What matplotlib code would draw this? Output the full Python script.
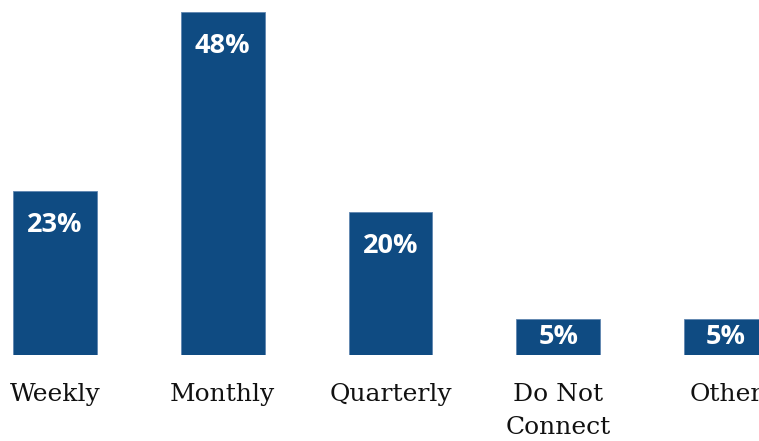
import matplotlib.pyplot as plt
import numpy as np

categories = ["Weekly", "Monthly", "Quarterly", "Do Not\nConnect", "Other"]
values = [23, 48, 20, 5, 5]
labels = ["23%", "48%", "20%", "5%", "5%"]

W, H = 759, 441
bar_color = "#0f4b82"
px_per_unit = 7.15
base_px = 355  # bar baseline, px from top

fig = plt.figure(figsize=(W / 100, H / 100), dpi=100)
ax = fig.add_axes([0, 1 - base_px / H, 1, base_px / H])

x = np.arange(len(categories))
spacing = 167.75
x0 = -55 / spacing
ax.set_xlim(x0, x0 + W / spacing)
ax.set_ylim(0, base_px / px_per_unit)

ax.bar(x, values, width=0.5, color=bar_color, edgecolor="#5f86b0", linewidth=0.6)

for xi, v, lab in zip(x, values, labels):
    bar_px = v * px_per_unit
    off = min(34, bar_px / 2)
    ax.text(xi, v - off / px_per_unit, lab, ha="center", va="center",
            color="white", fontsize=19.5, fontweight="bold", family=["Open Sans", "DejaVu Sans"])

ax.axis("off")

# category labels (the last one runs off the right edge, as in the original)
for xi, cat in zip(x, categories):
    xf = (xi - x0) * spacing / W
    fig.text(xf, 1 - 383 / H, cat, ha="center", va="top", fontsize=18,
             family="DejaVu Serif", color="#111111", linespacing=1.55)

fig.savefig("out.png", dpi=100, facecolor="white")
